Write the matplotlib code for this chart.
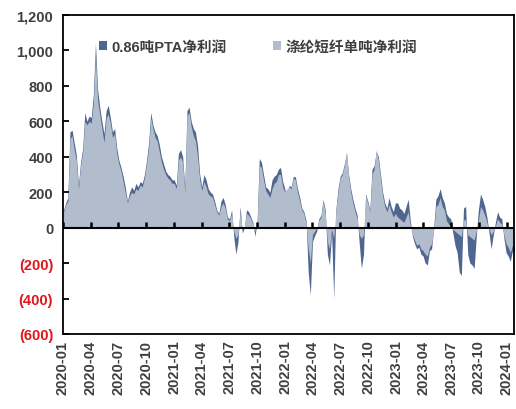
import numpy as np
import pandas as pd
import matplotlib
matplotlib.use("Agg")
from matplotlib import pyplot as plt
from matplotlib.ticker import FuncFormatter
import matplotlib.dates as mdates

plt.rcParams['font.family'] = ['Liberation Sans', 'Noto Sans CJK SC', 'DejaVu Sans']

# weekly values (Fridays), 2020-01-03 .. 2024-01-26
pta_2020 = [100, 140, 170, 540, 550, 480, 410, 240, 370, 450, 650, 600, 630, 620, 750, 1040,
            780, 680, 600, 530, 660, 690, 620, 540, 560, 450, 380, 340, 290, 230, 150, 200,
            230, 210, 250, 230, 260, 250, 300, 380, 480, 650, 580, 540, 520, 470, 400, 360,
            320, 300, 290, 270]
pta_2021 = [270, 240, 420, 440, 400, 220, 660, 680, 600, 560, 540, 460, 300, 230, 300, 270,
            220, 200, 190, 150, 100, 80, 150, 170, 130, 60, 50, 100, -50, -150, -80, 120,
            -30, 0, 100, 90, 60, 30, -50, 40, 390, 370, 300, 230, 220, 200, 270, 290,
            300, 330, 340, 260, 220]
pta_2022 = [150, 240, 230, 290, 285, 220, 170, 110, 90, 40, -250, -380, -80, -45, -20, 50,
            70, 160, 100, -150, -210, -30, -400, 100, 220, 290, 310, 360, 420, 300, 220, 160,
            110, 70, -90, -230, -150, 190, 150, 100, 330, 350, 430, 400, 300, 200, 140, 110,
            170, 120, 90, 140]
pta_2023 = [140, 110, 100, 80, 120, 160, 40, -50, -90, -120, -110, -150, -160, -200, -210, -130,
            -120, 0, 160, 180, 220, 170, 140, 80, 60, 50, -30, -100, -140, -250, -270, 110,
            120, -150, -200, -210, -230, -50, 100, 190, 160, 120, 60, -30, -120, -40, 30, 90,
            60, 50, -60, -140]
pta_2024 = [-160, -190, -130, -140]

fiber_2020 = [90, 130, 150, 500, 520, 440, 380, 220, 350, 430, 600, 580, 600, 590, 700, 980,
              720, 640, 560, 480, 620, 640, 590, 510, 530, 420, 360, 320, 260, 200, 140, 180,
              200, 190, 220, 210, 240, 230, 280, 360, 450, 620, 560, 510, 490, 430, 370, 330,
              300, 280, 270, 250]
fiber_2021 = [250, 220, 380, 400, 370, 200, 630, 650, 570, 520, 490, 400, 270, 210, 260, 230,
              190, 180, 170, 130, 90, 70, 120, 140, 110, 50, 40, 80, -20, -60, -40, 90,
              -10, 10, 80, 70, 50, 20, -20, 30, 350, 340, 270, 210, 190, 170, 220, 250,
              260, 300, 300, 230, 200]
fiber_2022 = [220, 230, 220, 280, 270, 200, 150, 100, 80, 20, -120, -200, -40, -20, 0, 40,
              60, 150, 80, -80, -120, -10, -60, 90, 200, 280, 300, 350, 430, 290, 200, 140,
              90, 50, -40, -60, -40, 180, 140, 90, 300, 330, 440, 380, 280, 180, 120, 90,
              130, 90, 60, 80]
fiber_2023 = [60, 50, 40, 30, 60, 90, 10, -40, -70, -100, -90, -120, -130, -150, -160, -110,
              -90, -20, 120, 130, 170, 120, 100, 40, 20, 10, -10, -20, -30, -40, -50, 40,
              50, -40, -50, -60, -70, -20, 40, 120, 100, 70, 30, -10, -40, -20, 10, 50,
              30, 20, -40, -90]
fiber_2024 = [-110, -140, -100, -110]

pta = pta_2020 + pta_2021 + pta_2022 + pta_2023 + pta_2024
fiber = fiber_2020 + fiber_2021 + fiber_2022 + fiber_2023 + fiber_2024
dates = pd.date_range('2020-01-03', periods=len(pta), freq='7D')

tick_dates = pd.date_range('2020-01-01', '2024-01-01', freq='3MS')
yticks = [-600, -400, -200, 0, 200, 400, 600, 800, 1000, 1200]

dark = '#4f6690'
light = '#b1bccd'
grey = '#3f3f3f'
red = '#e0161b'

fig = plt.figure(figsize=(5.16, 4.10), dpi=100)
ax = fig.add_axes([0.122, 0.183, 0.874, 0.778])

ax.fill_between(dates, 0, pta, color=dark, lw=0, label='0.86吨PTA净利润', zorder=1)
ax.fill_between(dates, 0, fiber, color=light, lw=0, label='涤纶短纤单吨净利润', zorder=1.5)

ax.set_xlim(pd.Timestamp('2020-01-01'), pd.Timestamp('2024-01-24'))
ax.set_ylim(-600, 1200)

for s in ax.spines.values():
    s.set_linewidth(1.3)
    s.set_color('black')

ax.set_yticks(yticks)
ax.yaxis.set_major_formatter(FuncFormatter(lambda v, p: f'({abs(v):,.0f})' if v < 0 else f'{v:,.0f}'))
ax.tick_params(axis='y', direction='in', length=4, width=1.3, pad=7, labelsize=10.5, labelcolor=grey)
for lab in ax.get_yticklabels():
    lab.set_fontweight('bold')
    if lab.get_text().startswith('('):
        lab.set_color(red)

ax.set_xticks(tick_dates)
ax.xaxis.set_major_formatter(mdates.DateFormatter('%Y-%m'))
ax.tick_params(axis='x', length=0, pad=4, labelsize=10.5, labelcolor=grey, labelrotation=90)
for lab in ax.get_xticklabels():
    lab.set_fontweight('bold')

# zero line with short quarter ticks standing on it
ax.axhline(0, color='black', lw=1.5, zorder=3)
ax.vlines(tick_dates, 0, 32, color='black', lw=1.8, zorder=3)

leg = ax.legend(loc='center left', bbox_to_anchor=(0.05, 0.9), ncol=2, frameon=False,
                handlelength=0.55, handleheight=0.55, handletextpad=0.3, columnspacing=3.2,
                prop={'size': 10.5, 'weight': 'bold'})
for t in leg.get_texts():
    t.set_color(grey)

fig.savefig('out.png', dpi=100)
